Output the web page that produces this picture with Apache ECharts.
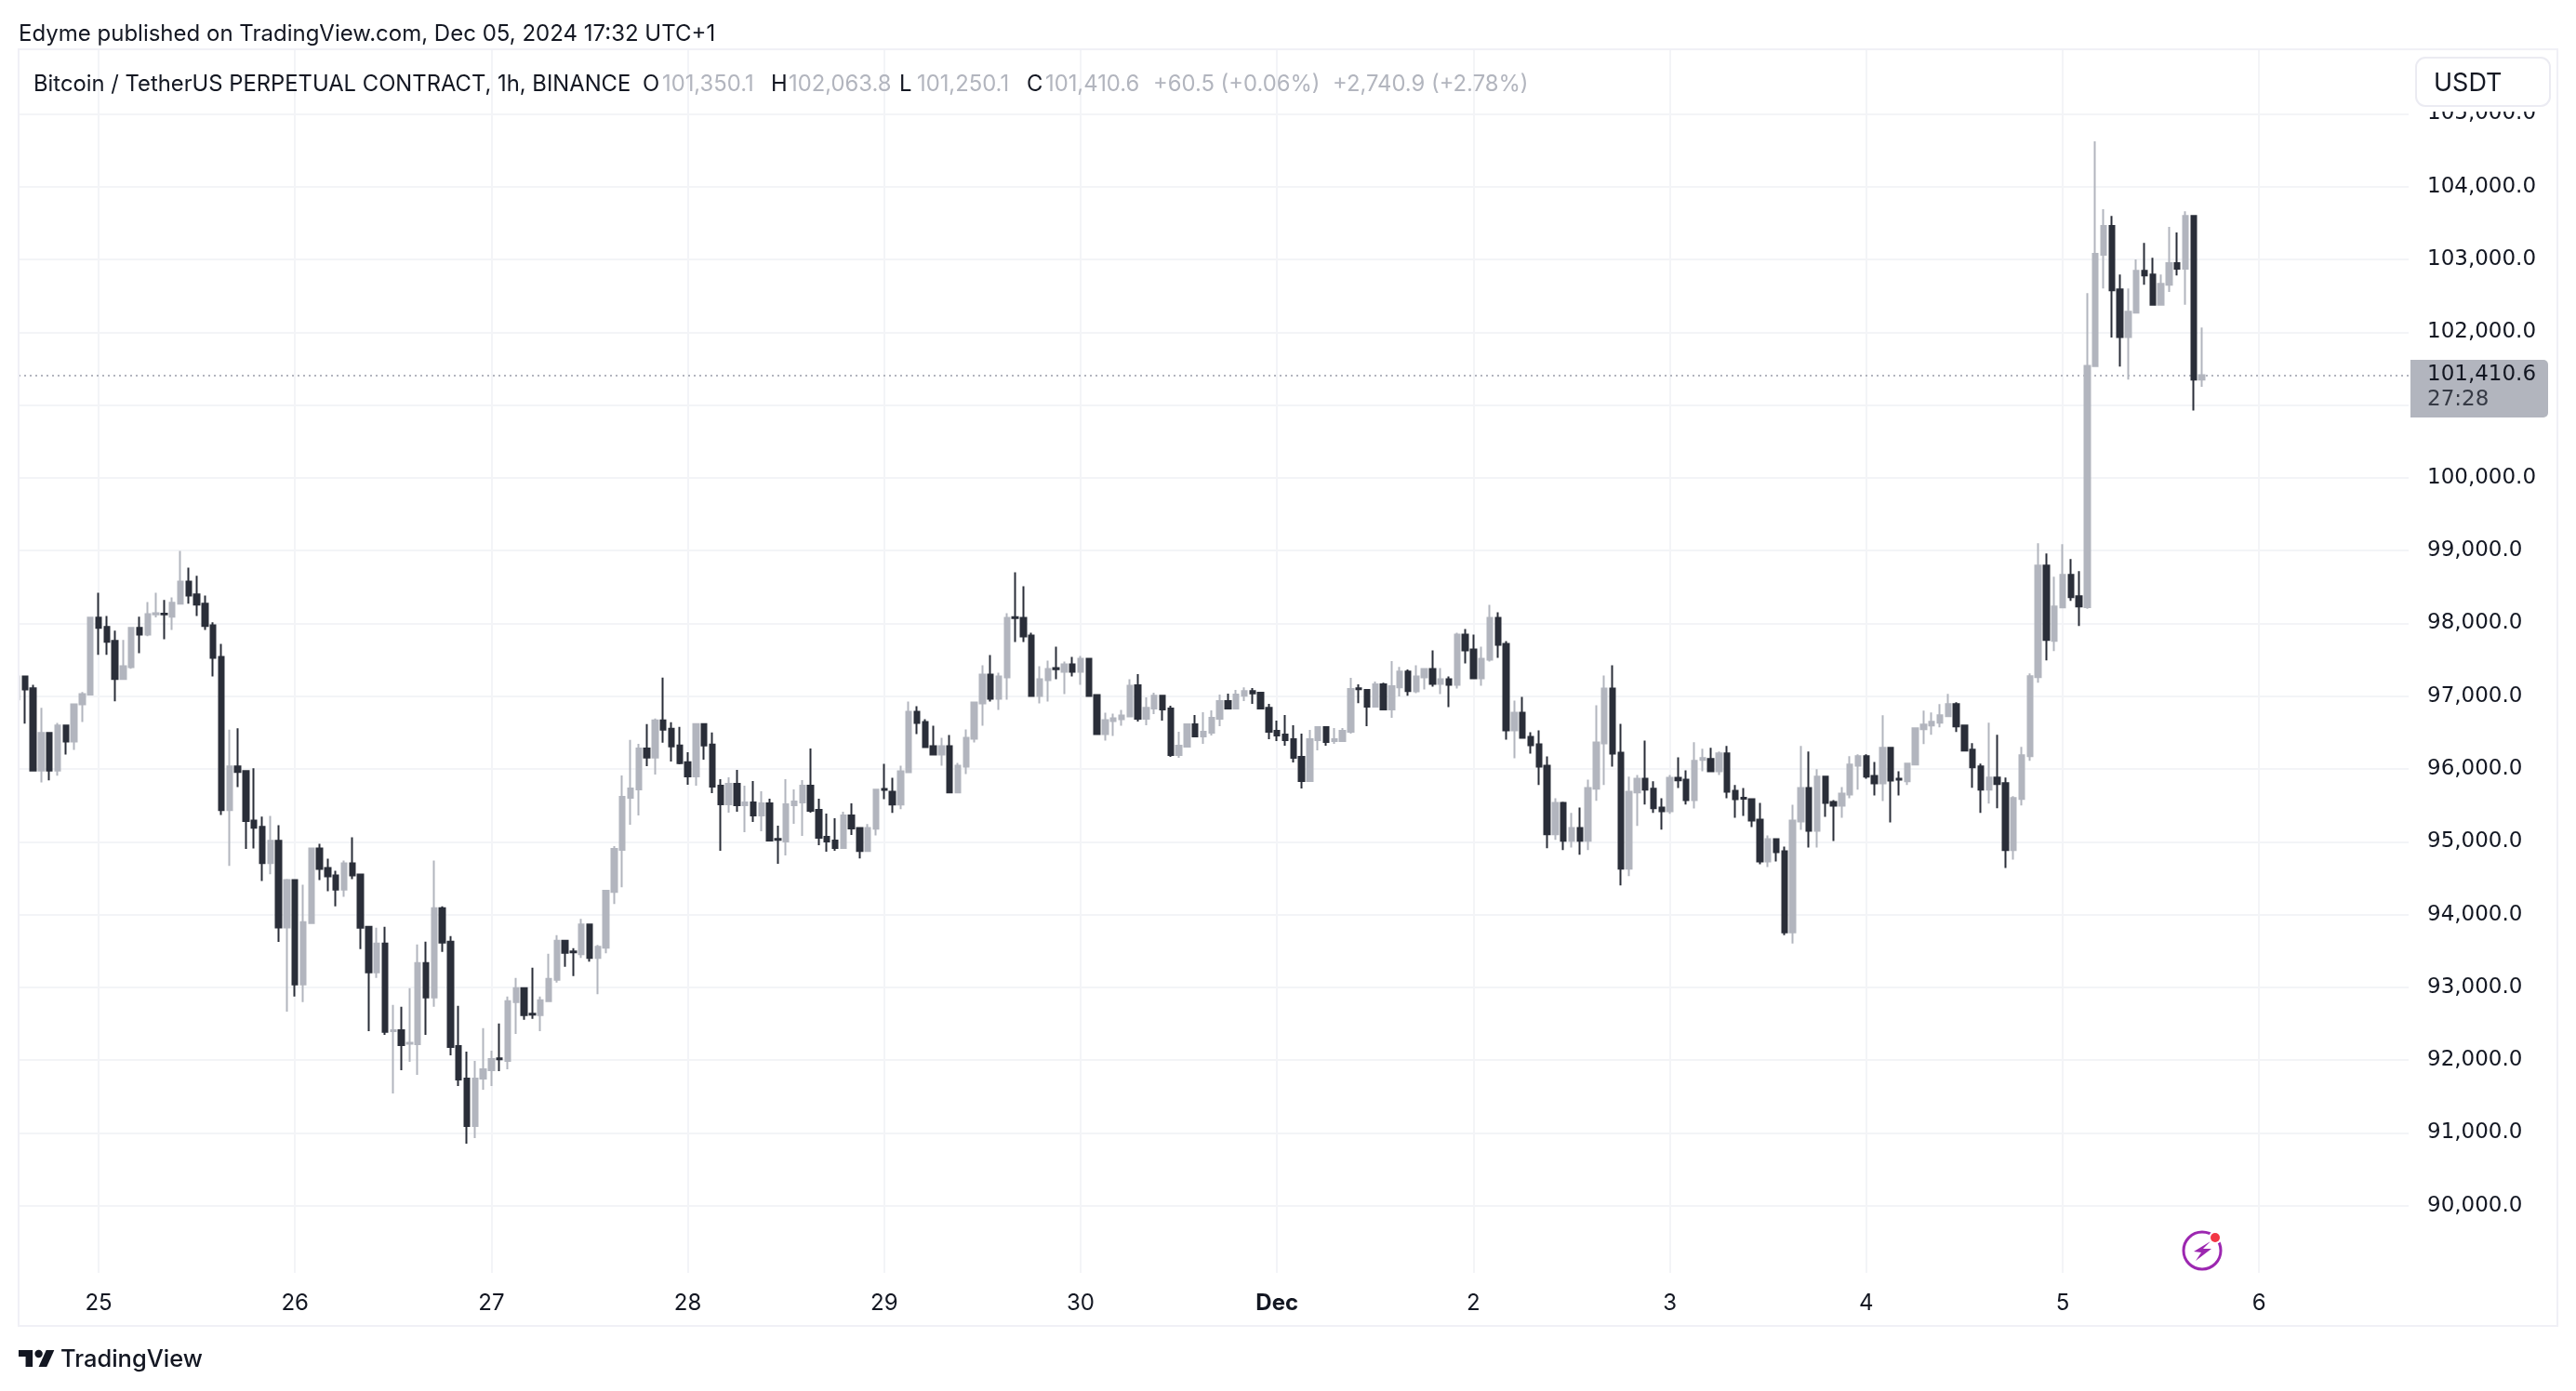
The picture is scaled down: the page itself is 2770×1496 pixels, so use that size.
<!DOCTYPE html>
<html>
<head>
<meta charset="utf-8">
<title>BTCUSDT.P 1h</title>
<style>
  html, body { margin: 0; padding: 0; background: #fff; }
  #chart { width: 2770px; height: 1496px; }
</style>
<script src="https://cdn.jsdelivr.net/npm/echarts@6/dist/echarts.min.js"></script>
</head>
<body>
<div id="chart"></div>
<script>
// hourly candles, first one is Nov 24 14:00
const opens = [96957,97272,97108,95977,96497,95977,96597,96378,96889,97021,
98079,97951,97760,97235,97399,97938,97846,98125,98134,98093,
98270,98576,98398,98270,97974,97541,95434,96036,95972,95293,
95206,94709,95015,93824,94473,93040,93885,94908,94639,94537,
94345,94703,94550,93833,93206,93603,92400,92413,92225,92221,
93334,92861,94089,93629,92196,91748,91095,91748,91863,92025,
91991,92797,92989,92637,92618,92810,93104,93641,93494,93456,
93865,93405,93545,94313,94889,95605,95720,96283,96156,96667,
96552,96322,96092,95900,96616,96335,95772,95516,95797,95503,
95541,95362,95529,95040,95004,95503,95541,95772,95439,95068,
95017,94914,95362,95191,94872,95179,95725,95689,95511,95957,
96787,96647,96315,96200,96315,95677,96034,96417,96902,97298,
96966,97259,98086,98076,97834,97004,97221,97385,97336,97438,
97336,97515,97017,96481,96659,96685,96723,97149,96689,96830,
97008,96830,96191,96306,96613,96447,96498,96689,96932,96830,
97008,97072,97047,96842,96523,96472,96408,96166,95834,96396,
96574,96383,96383,96511,97108,97085,96855,97162,96817,97123,
97340,97068,97259,97374,97170,97234,97157,97847,97642,97247,
97502,98076,97719,96532,96774,96442,96340,96047,95102,95536,
95013,95191,95013,95728,96353,97106,96225,94630,95677,95868,
95728,95472,95421,95881,95855,95574,96124,96137,95970,96214,
95702,95605,95587,95305,94729,95036,94870,93757,95280,95740,
95152,95894,95548,95497,95651,96047,96175,95906,95804,96290,
95866,95830,96060,96546,96597,96636,96725,96892,96597,96265,
96035,95716,95882,95805,94885,95588,96176,97262,98796,97760,
98221,98668,98374,98224,101533,103064,103461,102588,101935,102268,
102844,102794,102378,102652,102949,102872,103598,101350.1]

const highs = [97285,97285,97158,96839,96506,96633,96597,96889,97057,98079,
98421,98102,97901,97773,97938,98093,98293,98421,98321,98357,
98995,98767,98653,98384,98015,97719,96542,96560,95972,96009,
95347,95357,95229,94490,94485,94409,94908,94972,94767,94601,
94742,95062,94563,93833,93821,93833,92759,92733,92989,93590,
93629,94742,94115,93705,92746,92119,91991,92439,92132,92503,
92874,93130,93002,93270,92874,93462,93718,93654,93539,93942,
93878,93584,94339,94940,95912,96399,96347,96616,96693,97256,
96642,96578,96232,96629,96616,96501,95861,95887,95989,95772,
95836,95695,95593,95221,95861,95721,95848,96283,95593,95388,
95324,95413,95529,95204,95243,95715,96072,95881,96047,96928,
96864,96685,96596,96430,96468,96085,96545,96915,97425,97566,
97323,98140,98702,98510,97872,97413,97489,97681,97476,97540,
97553,97515,97017,96774,96762,96813,97234,97302,96983,97047,
97008,96868,96511,96625,96740,96779,96804,97021,97034,97085,
97123,97111,97047,96894,96664,96740,96600,96485,96536,96587,
96587,96562,96562,97251,97162,97098,97200,97187,97481,97404,
97366,97425,97374,97630,97387,97272,97872,97923,97847,97681,
98255,98153,97757,96940,96991,96506,96532,96174,95600,95549,
95396,95472,95855,96876,97285,97425,96621,95894,95919,96391,
95830,95600,95919,96162,95983,96367,96278,96290,96239,96316,
95779,95740,95599,95535,95088,95049,94934,95510,96316,96239,
95996,95894,95574,95753,96175,96201,96201,96098,96738,96303,
95970,96073,96559,96802,96776,96892,97032,96917,96597,96355,
96073,96636,96470,95882,95626,96304,97313,99102,98962,98642,
99090,98885,98719,102538,104622,103690,103598,102794,102602,103000,
103228,103022,102794,103447,103370,103662,103598,102063.8]

const lows = [96950,96624,95977,95817,95844,95908,96200,96264,96647,97021,
97568,97568,96930,97235,97377,97591,97824,98083,97782,97910,
98257,98270,98102,97910,97272,95370,94668,95753,94901,94910,
94463,94554,93624,92666,92874,92797,93872,94473,94320,94115,
94243,94486,93526,92400,93130,92349,91543,91863,91978,91799,
92349,92733,93488,92068,91645,90852,90929,91594,91645,91850,
91876,92362,92554,92567,92400,92810,93066,93283,93155,93405,
93353,92906,93469,94147,94377,95234,95362,96040,95925,96360,
96104,96066,95785,95772,96130,95669,94876,95401,95413,95132,
95273,95145,95004,94697,94812,95247,95081,95401,94953,94863,
94876,94914,95094,94770,94872,95089,95587,95396,95447,95957,
96481,96289,96200,96047,95664,95677,95932,96366,96596,96928,
96813,96953,97745,97745,96991,96902,96928,97234,97030,97272,
97157,96991,96481,96391,96455,96596,96723,96651,96600,96753,
96664,96166,96153,96294,96447,96345,96460,96587,96817,96830,
96932,96894,96830,96408,96383,96319,96089,95732,95834,96255,
96319,96345,96370,96485,96906,96587,96855,96817,96702,96996,
97008,97042,97094,97132,97030,96851,97106,97451,97247,97145,
97476,97527,96404,96149,96417,96213,95779,94911,95026,94885,
94923,94821,94885,95562,95779,96034,94400,94528,95217,95511,
95396,95166,95383,95740,95511,95459,95970,95970,95919,95599,
95331,95356,95203,94691,94653,94729,93719,93603,95164,94921,
94921,95343,95011,95331,95599,95715,95868,95638,95561,95267,
95638,95779,96060,96341,96469,96572,96725,96508,96239,95741,
95396,95524,95460,94642,94757,95498,96112,97185,97492,97620,
98221,98310,97965,98201,101533,102602,101926,101528,101350,102268,
102652,102364,102364,102552,102780,102378,100925,101250.1]

const closes = [97272,97094,95977,96497,95977,96597,96378,96889,97030,98079,
97938,97746,97235,97413,97938,97846,98129,98140,98125,98284,
98576,98384,98257,97965,97527,95434,96036,95958,95284,95192,
94709,95015,93824,94476,93040,93897,94908,94627,94524,94345,
94703,94537,93821,93206,93603,92388,92413,92208,92240,93334,
92861,94089,93616,92183,91735,91095,91748,91876,92017,92012,
92810,92989,92618,92625,92823,93117,93641,93475,93482,93865,
93405,93558,94326,94902,95618,95733,96283,96156,96667,96539,
96309,96079,95900,96616,96322,95759,95516,95797,95503,95541,
95362,95529,95017,95028,95516,95554,95772,95426,95055,95004,
94914,95362,95183,94872,95191,95715,95712,95511,95970,96787,
96634,96302,96200,96315,95677,96047,96430,96915,97298,96966,
97272,98076,98074,97821,97004,97234,97374,97372,97438,97336,
97515,97004,96481,96672,96698,96736,97145,96689,96842,97008,
96817,96191,96319,96613,96447,96511,96702,96932,96830,97021,
97072,97040,96830,96511,96460,96396,96153,95834,96408,96574,
96370,96408,96523,97098,97096,96855,97162,96817,97136,97340,
97072,97272,97374,97170,97234,97157,97847,97630,97247,97515,
98076,97706,96532,96774,96430,96328,96034,95102,95536,95013,
95191,95013,95740,96366,97106,96213,94630,95689,95868,95715,
95460,95421,95881,95843,95574,96111,96150,95970,96214,95689,
95587,95593,95292,94729,95036,94857,93757,95292,95740,95152,
95894,95535,95497,95663,96060,96175,95894,95804,96290,95842,
95854,96073,96559,96610,96649,96738,96892,96585,96252,96022,
95716,95882,95792,94885,95601,96189,97275,98796,97773,98233,
98668,98361,98233,101537,103077,103461,102575,101935,102282,102844,
102780,102378,102666,102949,102872,103598,101350.1,101410.6]

const dayTicks = [10, 34, 58, 82, 106, 130, 154, 178, 202, 226, 250, 274]
const dayLabels = ['25', '26', '27', '28', '29', '30', 'Dec', '2', '3', '4', '5', '6']
const priceTicks = [90000, 91000, 92000, 93000, 94000, 95000, 96000, 97000, 98000, 99000, 100000, 101000, 102000, 103000, 104000, 105000]
const lastPrice = 101410.6
const countdown = '27:28'

const FONT = 'Inter, "Noto Sans", sans-serif'
const NUM_FONT = '"DejaVu Sans", sans-serif'
const INK = '#131722'
const FADED = '#b2b5be'

function fmtPrice(v) {
  return v.toLocaleString('en-US', { minimumFractionDigits: 1, maximumFractionDigits: 1 })
}

// legend line, text + x + colour
const legendBits = [
  ['O', 691, INK], ['101,350.1', 712, FADED],
  ['H', 829, INK], ['102,063.8', 848, FADED],
  ['L', 967, INK], ['101,250.1', 986, FADED],
  ['C', 1104, INK], ['101,410.6', 1124, FADED],
  ['+60.5 (+0.06%)', 1240, FADED],
  ['+2,740.9 (+2.78%)', 1433, FADED]
]

function textEl(text, x, y, size, color, family) {
  return {
    type: 'text',
    z: 102,
    x: x,
    y: y,
    style: {
      text: text,
      fill: color,
      font: size + 'px ' + (family || FONT),
      textVerticalAlign: 'middle'
    }
  }
}

// TradingView mark, outline points in its own small box
function logoShape(points) {
  return {
    type: 'polygon',
    z: 102,
    shape: { points: points.map(p => [20 + p[0] * 1.08, 1448 + p[1]]) },
    style: { fill: INK }
  }
}

const chart = echarts.init(document.getElementById('chart'), null, { renderer: 'canvas' })

chart.setOption({
  animation: false,
  backgroundColor: '#ffffff',
  grid: { left: 20, top: 54, width: 2570, height: 1315 },
  xAxis: {
    type: 'value',
    min: 0.227,
    max: 292.27,
    axisLine: { show: false },
    axisTick: { show: false, customValues: dayTicks },
    splitLine: { show: true, lineStyle: { color: '#f3f4f7', width: 2 } },
    axisLabel: {
      customValues: dayTicks,
      margin: 21,
      color: INK,
      fontFamily: FONT,
      fontSize: 24,
      formatter: function (v) {
        const label = dayLabels[dayTicks.indexOf(v)]
        return label === 'Dec' ? '{b|Dec}' : label
      },
      rich: { b: { fontWeight: 'bold', fontSize: 24, fontFamily: FONT, color: INK } }
    }
  },
  yAxis: {
    type: 'value',
    position: 'right',
    min: 89078,
    max: 105874,
    axisLine: { show: false },
    axisTick: { show: false, customValues: priceTicks },
    splitLine: { show: true, lineStyle: { color: '#f3f4f7', width: 2 } },
    axisLabel: {
      customValues: priceTicks,
      margin: 20,
      padding: [2, 0, 0, 0],
      color: INK,
      fontFamily: NUM_FONT,
      fontSize: 23,
      formatter: fmtPrice
    }
  },
  series: [{
    type: 'candlestick',
    barWidth: 6,
    clip: true,
    z: 3,
    itemStyle: {
      color: FADED,
      color0: '#2a2e39',
      borderColor: FADED,
      borderColor0: '#2a2e39',
      borderWidth: 2
    },
    data: opens.map((o, i) => [i, o, closes[i], lows[i], highs[i]]),
    markLine: {
      silent: true,
      z: 1,
      symbol: 'none',
      label: { show: false },
      lineStyle: { color: FADED, type: [2, 4], width: 2 },
      data: [{ yAxis: lastPrice }]
    }
  }],
  graphic: {
    elements: [
      // first candle is cut by the left edge of the pane
      { type: 'rect', z: 99, shape: { x: 0, y: 54, width: 20, height: 1372 }, style: { fill: '#ffffff' } },
      // frame
      { type: 'rect', z: 100, shape: { x: 20, y: 53, width: 2730, height: 1373 }, style: { fill: 'none', stroke: '#f0f0f6', lineWidth: 2 } },
      // hides the top of the 105,000 label, under the currency button
      { type: 'rect', z: 101, shape: { x: 2592, y: 55, width: 157, height: 65 }, style: { fill: '#ffffff' } },
      { type: 'rect', z: 102, shape: { x: 2598, y: 62, width: 144, height: 52, r: 10 }, style: { fill: '#ffffff', stroke: '#ebebf2', lineWidth: 2 } },
      textEl('USDT', 2617, 89.5, 27, INK),
      // last price tag
      { type: 'rect', z: 102, shape: { x: 2592, y: 387, width: 148, height: 62, r: [0, 5, 5, 0] }, style: { fill: FADED } },
      textEl(fmtPrice(lastPrice), 2610, 403.5, 23, INK, NUM_FONT),
      textEl(countdown, 2610, 430.5, 23, '#363a45', NUM_FONT),
      // published by line and logo
      textEl('Edyme published on TradingView.com, Dec 05, 2024 17:32 UTC+1', 20, 36.5, 24, INK),
      textEl('Bitcoin / TetherUS PERPETUAL CONTRACT, 1h, BINANCE', 36, 91, 23.8, INK),
      ...legendBits.map(b => textEl(b[0], b[1], 91, 23.8, b[2])),
      logoShape([[0, 4], [14, 4], [14, 22], [7, 22], [7, 11], [0, 11]]),
      logoShape([[28, 22], [20, 22], [27.5, 4], [35.5, 4]]),
      { type: 'circle', z: 102, shape: { cx: 20 + 20 * 1.08, cy: 1456, r: 4.2 }, style: { fill: INK } },
      textEl('TradingView', 65, 1462, '500 25.5', INK),
      // lightning badge
      { type: 'circle', z: 102, shape: { cx: 2368, cy: 1345, r: 20 }, style: { fill: 'none', stroke: '#9c27b0', lineWidth: 3 } },
      {
        type: 'polygon',
        z: 102,
        shape: { points: [[2377, 1335], [2359, 1346], [2367, 1347], [2361, 1356], [2378, 1343], [2369, 1343]] },
        style: { fill: '#9c27b0' }
      },
      { type: 'circle', z: 103, shape: { cx: 2382, cy: 1331, r: 7 }, style: { fill: '#ffffff' } },
      { type: 'circle', z: 104, shape: { cx: 2382, cy: 1331, r: 5 }, style: { fill: '#f23645' } }
    ]
  }
})
</script>
</body>
</html>
